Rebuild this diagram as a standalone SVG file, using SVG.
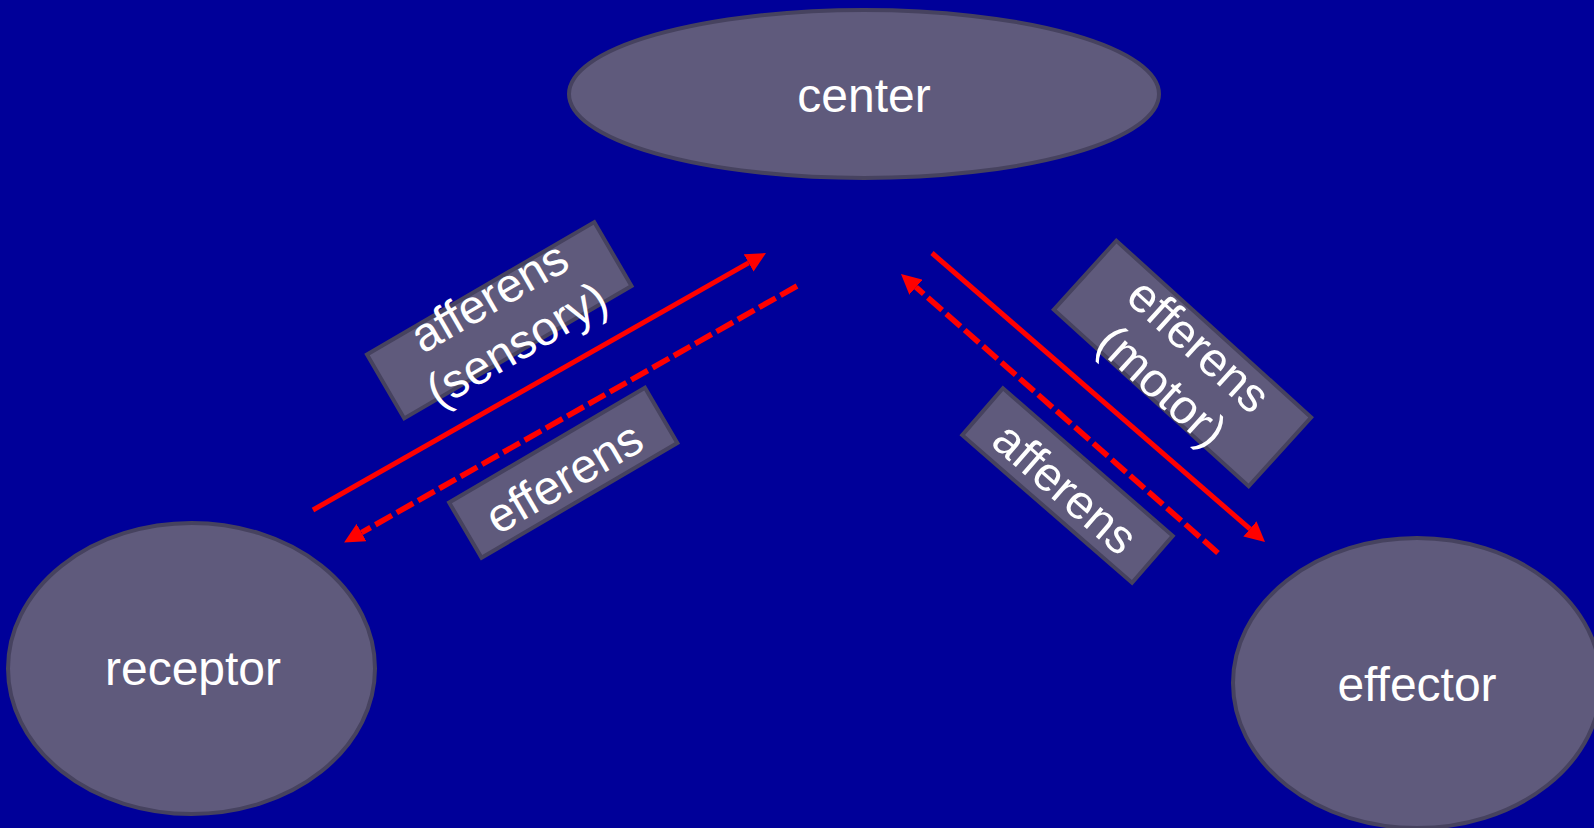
<svg xmlns="http://www.w3.org/2000/svg" width="1594" height="828" viewBox="0 0 1594 828">
<style>
.node{fill:#5f5a7c;stroke:#46425f;stroke-width:4}
.lbl{fill:#ffffff;font-family:"Liberation Sans",Arial,sans-serif;font-size:48px;text-anchor:middle}
.solid{stroke:#ff0000;stroke-width:5;fill:none}
.dash{stroke:#ff0000;stroke-width:5.6;fill:none;stroke-dasharray:19 5.5}
</style>
<defs>
<marker id="ah" viewBox="0 0 4 4" refX="0" refY="2" markerWidth="20" markerHeight="20" orient="auto" markerUnits="userSpaceOnUse">
<path d="M0,0 L4,2 L0,4 Z" fill="#ff0000"/>
</marker>
</defs>
<rect width="1594" height="828" fill="#000099"/>
<g id="center">
<ellipse class="node" cx="864" cy="94" rx="295" ry="84"/>
<text class="lbl" x="864" y="112">center</text>
</g>
<g id="receptor">
<ellipse class="node" cx="191.5" cy="668.5" rx="183.5" ry="145.5"/>
<text class="lbl" x="193" y="685">receptor</text>
</g>
<g id="effector">
<ellipse class="node" cx="1417" cy="683" rx="184" ry="145"/>
<text class="lbl" x="1417" y="701">effector</text>
</g>
<g id="label-afferens-sensory" transform="translate(499.25,320.25) rotate(-30.2)">
<rect class="node" x="-131.5" y="-37" width="263" height="74"/>
<text class="lbl" x="3" y="-9">afferens</text>
<text class="lbl" x="3" y="46">(sensory)</text>
</g>
<g id="label-efferens-left" transform="translate(563.25,472.75) rotate(-30.4)">
<rect class="node" x="-113.5" y="-32" width="227" height="64"/>
<text class="lbl" x="-2" y="21">efferens</text>
</g>
<g id="label-efferens-motor" transform="translate(1182.5,363.5) rotate(42.2)">
<rect class="node" x="-131.5" y="-46.5" width="263" height="93"/>
<text class="lbl" x="0" y="-8">efferens</text>
<text class="lbl" x="0" y="47">(motor)</text>
</g>
<g id="label-afferens-right" transform="translate(1067.5,485.5) rotate(41)">
<rect class="node" x="-112.5" y="-31" width="225" height="62"/>
<text class="lbl" x="0" y="20">afferens</text>
</g>
<g id="connectors">
<path class="solid" d="M313,510 L748.6,262.9" marker-end="url(#ah)"/>
<path class="dash" d="M797,286 L361.5,532.6" marker-end="url(#ah)"/>
<path class="solid" d="M932,253 L1249.9,528.9" marker-end="url(#ah)"/>
<path class="dash" d="M1218,553 L916,287.2" marker-end="url(#ah)"/>
</g>
</svg>
